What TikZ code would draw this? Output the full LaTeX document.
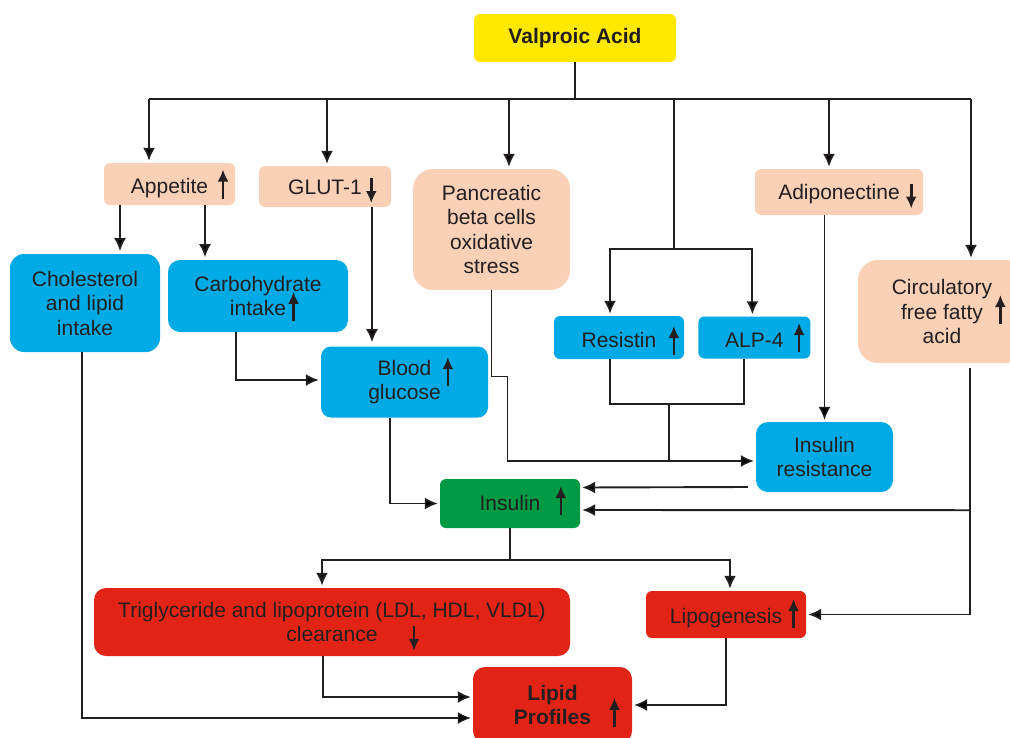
\documentclass[tikz,border=0pt]{standalone}
\usepackage{fontspec}
\setmainfont{Liberation Sans}
\usetikzlibrary{positioning,arrows.meta}
\definecolor{vayellow}{RGB}{255,232,0}
\definecolor{peach}{RGB}{250,208,182}
\definecolor{skyblue}{RGB}{0,170,228}
\definecolor{leafgreen}{RGB}{0,154,68}
\definecolor{brickred}{RGB}{226,36,22}
\definecolor{inkgray}{RGB}{35,31,32}
% small up / down arrows set after a word
\newcommand{\uarr}[2][0pt]{\rlap{\hspace{#2}\smash{\raisebox{#1}{\tikz[baseline=0pt]\draw[line width=2.6pt,-{Latex[length=12pt,width=11pt]}] (0pt,-5pt) -- (0pt,24pt);}}}}
\newcommand{\darr}[2][0pt]{\rlap{\hspace{#2}\smash{\raisebox{#1}{\tikz[baseline=0pt]\draw[line width=2.6pt,-{Latex[length=12pt,width=11pt]}] (0pt,16pt) -- (0pt,-9pt);}}}}

\begin{document}
\begin{tikzpicture}[
  x=1pt,y=-1pt,
  node distance=14pt and 14pt,
  font=\fontsize{21}{24.5}\selectfont,
  box/.style={rounded corners=6pt,align=center,text=inkgray,inner sep=0pt},
  peachnode/.style={box,fill=peach},
  bluenode/.style={box,fill=skyblue},
  rednode/.style={box,fill=brickred},
  oneline/.style={text height=#1,text depth=5pt},
  boldtext/.style={font=\fontsize{21}{24.5}\selectfont\bfseries},
  link/.style={draw=inkgray,line width=1.9pt},
  thinlink/.style={draw=inkgray,line width=1.3pt},
  arr/.style={-{Latex[length=13pt,width=12pt]},shorten >=2pt}
]
\path[use as bounding box,fill=white] (0,0) rectangle (1010,737);

\node[box,boldtext,fill=vayellow,minimum width=202pt,minimum height=48pt] (VA) at (575,38) {Valproic Acid};

\node[peachnode,oneline=24pt,minimum width=131pt,minimum height=42pt] (Ap) at (169.5,184) {Appetite\uarr{9.5pt}};
\node[peachnode,oneline=20pt,minimum width=132pt,minimum height=41pt] (GL) at (325,186.5) {GLUT-1\darr{4pt}};
\node[peachnode,rounded corners=20pt,minimum width=157pt,minimum height=121pt] (PB) at (491.5,229.5) {Pancreatic\\beta cells\\oxidative\\stress};
\node[peachnode,oneline=20pt,minimum width=168pt,minimum height=46pt] (AD) at (839,192) {Adiponectine\darr{6pt}};
\node[peachnode,rounded corners=20pt,minimum width=168pt,minimum height=103pt] (FA) at (942,311.5) {Circulatory\\free fatty\uarr{12pt}\\acid};

\node[bluenode,rounded corners=14pt,minimum width=150pt,minimum height=98pt] (CH) at (85,303) {Cholesterol\\and lipid\\intake};
\node[bluenode,rounded corners=12pt,minimum width=180pt,minimum height=72pt] (CA) at (258,296) {Carbohydrate\\intake\uarr{2pt}};
\node[bluenode,rounded corners=10pt,minimum width=167pt,minimum height=71pt] (BG) at (404.5,382) {Blood\uarr[-6pt]{11pt}\\glucose};
\node[bluenode,oneline=24pt,minimum width=130pt,minimum height=43pt] (RE) at (619,337.5) {Resistin\uarr[-3pt]{12pt}};
\node[bluenode,oneline=24pt,minimum width=112pt,minimum height=42pt,right=14pt of RE] (AL) {ALP-4\uarr{10pt}};
\node[bluenode,rounded corners=12pt,minimum width=137pt,minimum height=70pt] (IR) at (824.5,457) {Insulin\\resistance};

\node[box,oneline=18pt,fill=leafgreen,minimum width=140pt,minimum height=49pt] (IN) at (510,503.5) {Insulin\uarr{15pt}};

\node[rednode,rounded corners=12pt,minimum width=476pt,minimum height=68pt] (TG) at (332,622) {Triglyceride and lipoprotein (LDL, HDL, VLDL)\\clearance\darr{31pt}};
\node[rednode,oneline=22pt,minimum width=160pt,minimum height=47pt] (LG) at (726,614.5) {Lipogenesis\uarr{6pt}};
\node[rednode,boldtext,rounded corners=12pt,minimum width=159pt,minimum height=76pt] (LP) at (552.5,705) {Lipid\\Profiles\uarr[3pt]{18pt}};

% top bar
\coordinate (dAp) at (149,99);
\coordinate (dGL) at (327,99);
\coordinate (dPB) at (509,99);
\coordinate (dRA) at (674,99);
\coordinate (dAD) at (829,99);
\coordinate (dFA) at (971,99);
\draw[link] (VA) -- (VA |- dAp);
\draw[link,line width=2.3pt] (dAp) -- (dFA);
\draw[link,arr] (dAp) -- (dAp |- Ap.north);
\draw[link,arr] (dGL) -- (dGL |- GL.north);
\draw[link,arr] (dPB) -- (dPB |- PB.north);
\draw[thinlink] (dRA) -- ++(0,150) coordinate (sRA);
\draw[link,arr] (sRA) -| ([xshift=-9pt]RE.north);
\draw[link,arr] (sRA) -| ([xshift=-2pt]AL.north);
\draw[link,arr] (dAD) -- (dAD |- AD.north);
\draw[link,arr] (dFA) -- (dFA |- FA.north);

% middle
\draw[link,arr] ([xshift=-49.5pt]Ap.south) -- ++(0,48);
\draw[link,arr] ([xshift=35.5pt]Ap.south) -- ++(0,54);
\draw[link,arr] ([xshift=47pt]GL.south) -- ++(0,137);
\draw[link,arr] ([xshift=-22pt]CA.south) |- ([yshift=2pt]BG.west);
\draw[thinlink,arr] (PB.south) -- ++(0,86) -- ++(16,0) |- ([yshift=-4pt]IR.west);
\draw[link] ([xshift=-9pt]RE.south) -- ++(0,45) -| ([xshift=-10pt]AL.south);
\draw[link] ([xshift=50pt]RE.south) ++(0,45) -- ++(0,57);
\draw[thinlink,arr] (AD.south -| IR.north) -- (IR.north);
\draw[link,arr] ([yshift=-30pt]IR.west) ++(-8,0) -- ([yshift=16pt]IN.east);
\draw[link,arr] ([xshift=28pt,yshift=-5pt]FA.south) |- (LG);
\draw[link,arr] ([xshift=28pt,yshift=-5pt]FA.south) ++(0,142) -- ([yshift=-6.5pt]IN.east);
\draw[link,arr] ([xshift=-14.5pt]BG.south) |- (IN);

% bottom
\draw[thinlink] (IN.south) -- ++(0,32) coordinate (sIN);
\draw[link,line width=2.4pt,arr] (sIN) -| ([xshift=-10pt]TG.north);
\draw[link,line width=2.4pt,arr] (sIN) -| ([xshift=4pt]LG.north);
\draw[link,arr] ([xshift=-9pt]TG.south) |- ([yshift=8pt]LP.west);
\draw[thinlink,arr] ([xshift=-3pt]CH.south) |- ([yshift=-13pt]LP.west);
\draw[thinlink,arr] (LG) |- (LP);
\end{tikzpicture}
\end{document}
